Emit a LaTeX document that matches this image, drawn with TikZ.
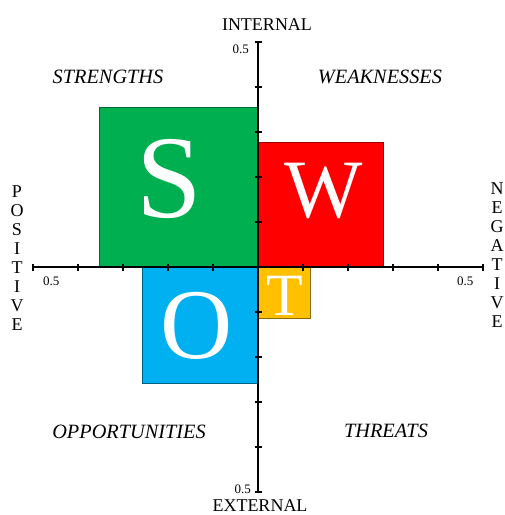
\documentclass[tikz,border=0pt]{standalone}
\usepackage{fontspec}
\setmainfont{Liberation Serif}
\definecolor{sgreen}{HTML}{00B050}
\definecolor{wred}{HTML}{FF0000}
\definecolor{oblue}{HTML}{00B0F0}
\definecolor{torange}{HTML}{FFC000}
\tikzset{
  quad/.style={line width=0.7pt},
  axis/.style={line width=1.6pt, black},
  tick/.style={line width=1.2pt, black},
  biglet/.style={white, inner sep=0pt, anchor=base},
  qlabel/.style={font=\fontsize{20.3}{21}\selectfont\itshape, inner sep=0pt, anchor=base},
  axlabel/.style={font=\fontsize{18}{20}\selectfont, inner sep=0pt, anchor=base},
  numlabel/.style={font=\fontsize{13}{14}\selectfont, inner sep=0pt},
  sidelabel/.style={font=\fontsize{18}{19}\selectfont, inner sep=0pt, align=center}
}
\begin{document}
\begin{tikzpicture}[x=1pt, y=-1pt]
\useasboundingbox (0,0) rectangle (505,515);
% quadrant rectangles
\filldraw[quad, fill=sgreen, draw=sgreen!60!black] (99,107) rectangle (258,267);
\filldraw[quad, fill=wred, draw=wred!60!black] (258,142) rectangle (383,267);
\filldraw[quad, fill=oblue, draw=oblue!55!black] (142,267) rectangle (258,383);
\filldraw[quad, fill=torange, draw=torange!55!black] (258,267) rectangle (310,318);
% big letters
\node[biglet, font=\fontsize{118}{118}\selectfont] (S) at (169,217) {S};
\node[biglet, font=\fontsize{83}{83}\selectfont] (W) at (324,217) {W};
\node[biglet, font=\fontsize{100}{100}\selectfont] (O) at (197,358) {O};
\node[biglet, font=\fontsize{60}{60}\selectfont] (T) at (285,315) {T};
% axes
\coordinate (xl) at (33,267);
\coordinate (xr) at (483,267);
\coordinate (yt) at (258,42);
\coordinate (yb) at (258,492);
\draw[axis] (xl) -- (xr);
\draw[axis] (yt) -- (yb);
\foreach \k in {-5,...,-1,1,2,3,4,5} {
  \draw[tick] ({258+45*\k},263.5) -- ({258+45*\k},270.5);
  \draw[tick] (254.5,{267+45*\k}) -- (261.5,{267+45*\k});
}
% quadrant labels
\node[qlabel] (str) at (108,83) {STRENGTHS};
\node[qlabel] (wea) at (380,83) {WEAKNESSES};
\node[qlabel] (opp) at (129,438) {OPPORTUNITIES};
\node[qlabel] (thr) at (386,437) {THREATS};
% axis labels
\node[axlabel] (int) at (267,30) {INTERNAL};
\node[axlabel] (ext) at (260,511) {EXTERNAL};
\node[sidelabel] (pos) at (17,258.5) {P\\O\\S\\I\\T\\I\\V\\E};
\node[sidelabel] (neg) at (497,255.5) {N\\E\\G\\A\\T\\I\\V\\E};
% numbers
\node[numlabel, anchor=base east] (nt) at (249,53) {0.5};
\node[numlabel, anchor=base east] (nb) at (251,493) {0.5};
\node[numlabel, anchor=base west] (nl) at (43,285) {0.5};
\node[numlabel, anchor=base west] (nr) at (457,285) {0.5};
\end{tikzpicture}
\end{document}
